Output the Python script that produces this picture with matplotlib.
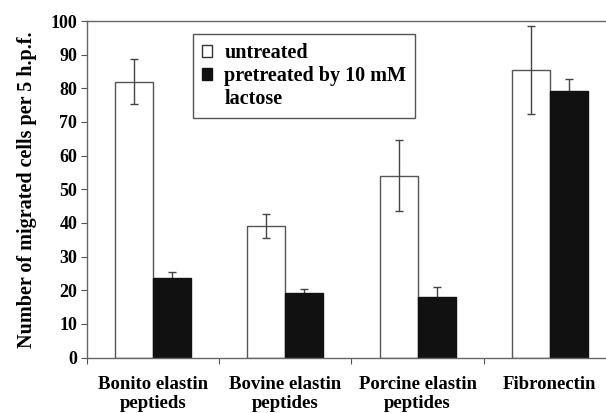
import numpy as np
import matplotlib.pyplot as plt
from matplotlib.patches import Patch

categories = ["Bonito elastin\npeptieds", "Bovine elastin\npeptides",
              "Porcine elastin\npeptides", "Fibronectin"]
untreated = [82.0, 39.0, 54.0, 85.5]
untreated_err = [6.7, 3.6, 10.6, 13.0]
pretreated = [23.5, 19.2, 18.1, 79.3]
pretreated_err = [2.0, 1.2, 2.9, 3.4]
series_labels = ["untreated", "pretreated by 10 mM", "lactose"]

plt.rcParams['font.family'] = ['Liberation Serif', 'DejaVu Serif']
plt.rcParams['font.weight'] = 'bold'

fig = plt.figure(figsize=(6.06, 4.13), dpi=100)
# axes extends slightly past the right edge, as in the reference crop
ax = fig.add_axes([87/606, 1 - 357.5/413, 529/606, 336.5/413])

x = np.arange(len(categories))
w = 0.287
ax.bar(x - w/2, untreated, w, color='white', edgecolor='#555555', linewidth=1,
       yerr=untreated_err, capsize=3, zorder=2,
       error_kw=dict(ecolor='#444444', elinewidth=1, capthick=1, zorder=3))
# error bars of the black bars sit behind them, only the upper half shows
ax.errorbar(x + w/2, pretreated, yerr=pretreated_err, fmt='none',
            ecolor='#444444', elinewidth=1, capsize=3, capthick=1, zorder=1)
ax.bar(x + w/2, pretreated, w, color='#111111', edgecolor='#111111',
       linewidth=1, zorder=2)

ax.set_xlim(-0.5, len(categories) - 0.5)
ax.set_ylim(0, 100)
ax.set_yticks(np.arange(0, 101, 10))
ax.tick_params(axis='y', direction='out', length=4, color='#555555',
               labelsize=13, pad=3)
ax.set_xticks(np.arange(-0.5, len(categories) - 0.4, 1.0))
ax.set_xticklabels([])
ax.tick_params(axis='x', which='major', direction='out', length=4, color='#555555')
ax.set_xticks(x, categories, minor=True)
ax.tick_params(axis='x', which='minor', length=0, labelsize=13.5, pad=13)
for lab in ax.get_xticklabels(minor=True) + ax.get_yticklabels():
    lab.set_fontweight('bold')
for lab in ax.get_xticklabels(minor=True):
    lab.set_linespacing(1.2)

for s in ax.spines.values():
    s.set_color('#666666')
    s.set_linewidth(1)

ax.set_ylabel("Number of migrated cells per 5 h.p.f.", fontsize=14.5,
              fontweight='bold', labelpad=10)

# third legend row only carries the wrapped word, no marker
handles = [Patch(facecolor='white', edgecolor='#333333'),
           Patch(facecolor='#111111', edgecolor='#111111'),
           Patch(facecolor='none', edgecolor='none')]
leg = ax.legend(handles, series_labels, loc='upper left',
                bbox_to_anchor=((193 - 87)/529, 1 - (34 - 21)/336.5),
                fancybox=False, framealpha=1, edgecolor='#555555',
                prop={'weight': 'bold', 'size': 14.5},
                handlelength=0.5, handleheight=0.5, handletextpad=0.6,
                borderpad=0.45, labelspacing=0.15, borderaxespad=0)
leg.get_frame().set_linewidth(1)

fig.savefig("out.png", dpi=100)
